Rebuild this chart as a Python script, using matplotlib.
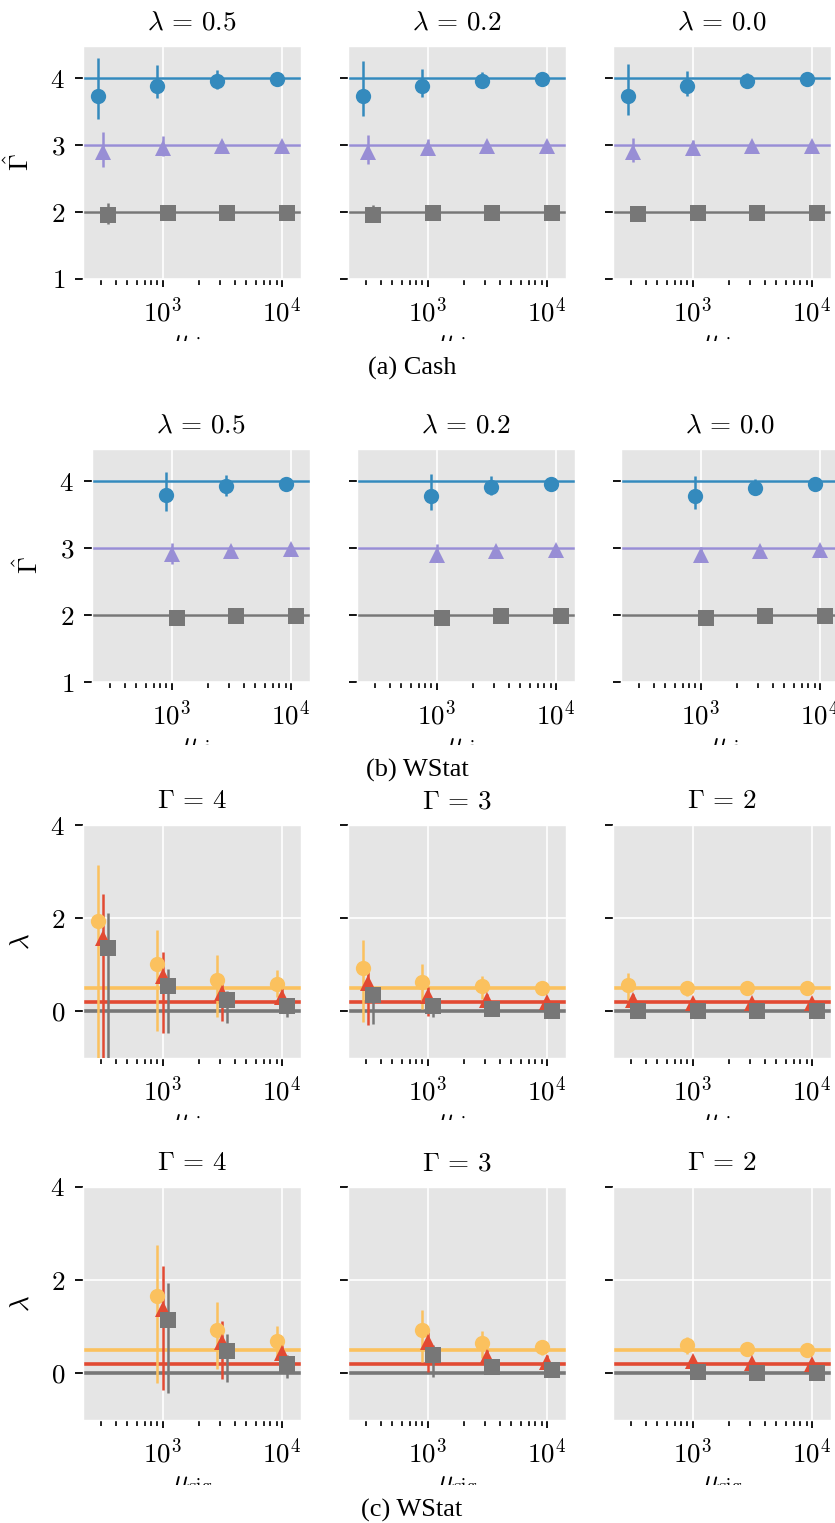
import numpy as np
import matplotlib
matplotlib.use('Agg')
import matplotlib.pyplot as plt
from matplotlib.patches import Rectangle
from matplotlib.ticker import FuncFormatter, LogLocator, FixedLocator, NullFormatter

nan = np.nan

# signal counts (x axis)
mu_sig = [316, 1000, 3162, 10000]

# --- (a) Cash: estimated Gamma, rows = true Gamma 4, 3, 2 ---
cash_est_l05 = [[3.73, 3.89, 3.96, 3.98], [2.89, 2.95, 2.98, 2.99], [1.96, 1.98, 1.99, 1.99]]
cash_lo_l05 = [[3.39, 3.71, 3.84, 3.94], [2.67, 2.83, 2.92, 2.96], [1.82, 1.94, 1.96, 1.97]]
cash_hi_l05 = [[4.30, 4.19, 4.12, 4.02], [3.20, 3.13, 3.06, 3.02], [2.14, 2.03, 2.02, 2.01]]

cash_est_l02 = [[3.73, 3.89, 3.95, 3.98], [2.89, 2.95, 2.98, 2.99], [1.96, 1.98, 1.99, 1.99]]
cash_lo_l02 = [[3.44, 3.72, 3.86, 3.95], [2.72, 2.86, 2.94, 2.97], [1.85, 1.95, 1.97, 1.98]]
cash_hi_l02 = [[4.25, 4.14, 4.09, 4.01], [3.15, 3.09, 3.03, 3.01], [2.10, 2.02, 2.01, 2.00]]

cash_est_l00 = [[3.73, 3.88, 3.95, 3.98], [2.89, 2.96, 2.98, 2.99], [1.97, 1.98, 1.99, 1.99]]
cash_lo_l00 = [[3.45, 3.73, 3.88, 3.96], [2.75, 2.90, 2.95, 2.97], [1.94, 1.96, 1.98, 1.98]]
cash_hi_l00 = [[4.21, 4.11, 4.07, 4.00], [3.11, 3.07, 3.01, 3.01], [2.00, 2.00, 2.00, 2.00]]

# --- (b) WStat: estimated Gamma ---
wst_est_l05 = [[nan, 3.79, 3.92, 3.96], [nan, 2.91, 2.96, 2.98], [nan, 1.96, 1.98, 1.99]]
wst_lo_l05 = [[nan, 3.55, 3.78, 3.93], [nan, 2.76, 2.90, 2.95], [nan, 1.93, 1.96, 1.98]]
wst_hi_l05 = [[nan, 4.14, 4.09, 4.00], [nan, 3.07, 3.02, 3.00], [nan, 2.00, 2.00, 2.00]]

wst_est_l02 = [[nan, 3.78, 3.91, 3.96], [nan, 2.90, 2.95, 2.97], [nan, 1.96, 1.98, 1.99]]
wst_lo_l02 = [[nan, 3.57, 3.79, 3.94], [nan, 2.79, 2.92, 2.95], [nan, 1.94, 1.97, 1.98]]
wst_hi_l02 = [[nan, 4.11, 4.07, 3.99], [nan, 3.06, 2.99, 2.99], [nan, 1.99, 1.99, 2.00]]

wst_est_l00 = [[nan, 3.78, 3.90, 3.96], [nan, 2.89, 2.95, 2.97], [nan, 1.96, 1.99, 1.99]]
wst_lo_l00 = [[nan, 3.58, 3.80, 3.94], [nan, 2.80, 2.92, 2.95], [nan, 1.94, 1.97, 1.98]]
wst_hi_l00 = [[nan, 4.08, 4.03, 3.99], [nan, 3.02, 2.99, 2.99], [nan, 1.99, 2.00, 2.00]]

# --- (c) estimated lambda, rows = true lambda 0.5, 0.2, 0.0 ---
lam1_est_g4 = [[1.95, 1.01, 0.67, 0.58], [1.57, 0.76, 0.40, 0.30], [1.36, 0.55, 0.25, 0.11]]
lam1_lo_g4 = [[-1.5, -0.43, -0.11, 0.30], [-1.5, -0.46, -0.21, 0.05], [-1.5, -0.46, -0.24, -0.11]]
lam1_hi_g4 = [[3.15, 1.74, 1.20, 0.88], [2.53, 1.28, 0.73, 0.50], [2.11, 0.92, 0.43, 0.25]]

lam1_est_g3 = [[0.94, 0.64, 0.55, 0.51], [0.60, 0.32, 0.25, 0.20], [0.35, 0.11, 0.05, 0.01]]
lam1_lo_g3 = [[-0.23, 0.05, 0.26, 0.43], [-0.29, -0.09, 0.08, 0.13], [-0.28, -0.13, -0.03, -0.04]]
lam1_hi_g3 = [[1.54, 1.01, 0.77, 0.60], [0.96, 0.53, 0.37, 0.27], [0.53, 0.26, 0.12, 0.06]]

lam1_est_g2 = [[0.57, 0.51, 0.50, 0.50], [0.24, 0.19, 0.19, 0.19], [0.00, 0.00, 0.00, 0.00]]
lam1_lo_g2 = [[0.25, 0.32, 0.45, 0.47], [0.12, 0.14, 0.16, 0.17], [-0.03, -0.02, -0.01, -0.01]]
lam1_hi_g2 = [[0.83, 0.65, 0.55, 0.53], [0.37, 0.25, 0.22, 0.21], [0.03, 0.02, 0.01, 0.01]]

lam2_est_g4 = [[nan, 1.66, 0.94, 0.69], [nan, 1.39, 0.67, 0.43], [nan, 1.14, 0.48, 0.21]]
lam2_lo_g4 = [[nan, -0.21, 0.09, 0.32], [nan, -0.36, -0.11, 0.06], [nan, -0.41, -0.18, -0.09]]
lam2_hi_g4 = [[nan, 2.75, 1.53, 1.01], [nan, 2.30, 1.12, 0.64], [nan, 1.94, 0.85, 0.40]]

lam2_est_g3 = [[nan, 0.93, 0.65, 0.56], [nan, 0.67, 0.35, 0.25], [nan, 0.39, 0.13, 0.07]]
lam2_lo_g3 = [[nan, 0.25, 0.32, 0.39], [nan, 0.04, 0.10, 0.12], [nan, -0.07, 0.00, 0.02]]
lam2_hi_g3 = [[nan, 1.35, 0.90, 0.70], [nan, 0.88, 0.51, 0.39], [nan, 0.61, 0.28, 0.12]]

lam2_est_g2 = [[nan, 0.60, 0.53, 0.51], [nan, 0.27, 0.22, 0.20], [nan, 0.02, 0.00, 0.00]]
lam2_lo_g2 = [[nan, 0.41, 0.47, 0.48], [nan, 0.20, 0.18, 0.17], [nan, -0.01, -0.01, -0.01]]
lam2_hi_g2 = [[nan, 0.79, 0.59, 0.54], [nan, 0.34, 0.26, 0.23], [nan, 0.05, 0.01, 0.01]]

gamma_true = [4, 3, 2]
lambda_true = [0.5, 0.2, 0.0]
gamma_colors = ['#348ABD', '#988ED5', '#777777']
lambda_colors = ['#FBC15E', '#E24A33', '#777777']
markers = ['o', '^', 's']
shifts = [0.9, 1.0, 1.1]

plt.style.use('ggplot')
plt.rcParams.update({
    'mathtext.fontset': 'cm',
    'font.family': 'serif',
    'font.serif': ['Liberation Serif', 'DejaVu Serif'],
    'xtick.color': 'black',
    'ytick.color': 'black',
    'axes.labelcolor': 'black',
})

W, H = 835, 1523
FS = 19.5
fig = plt.figure(figsize=(W / 100, H / 100), dpi=100)


def px_axes(left, top, w=218, h=233):
    return fig.add_axes([left / W, 1 - (top + h) / H, w / W, h / H])


def draw_panel(ax, est, lo, hi, truth, colors, lw, title, ylim, yticks, first, ylabel):
    for i in range(3):
        ax.axhline(truth[i], color=colors[i], lw=lw, zorder=2)
    for i in range(3):
        e = np.array(est[i])
        l = np.array(lo[i])
        h = np.array(hi[i])
        x = np.array(mu_sig) * shifts[i]
        ax.errorbar(x, e, yerr=[e - l, h - e], fmt=markers[i], color=colors[i],
                    ms=11, mew=0, elinewidth=1.8, capsize=2.5, capthick=1.8, zorder=3)
    ax.set_xscale('log')
    ax.set_xlim(213, 14450)
    ax.set_ylim(*ylim)
    ax.xaxis.set_major_locator(FixedLocator([1e3, 1e4]))
    ax.xaxis.set_minor_locator(LogLocator(base=10, subs=np.arange(2, 10)))
    ax.xaxis.set_minor_formatter(NullFormatter())
    ax.xaxis.set_major_formatter(FuncFormatter(lambda v, p: r'$10^{%d}$' % round(np.log10(v))))
    ax.set_yticks(yticks)
    if first:
        ax.yaxis.set_major_formatter(FuncFormatter(lambda v, p: r'$%g$' % v))
        ax.set_ylabel(ylabel, fontsize=FS)
        ax.yaxis.set_label_coords(-0.22, 0.5)
    else:
        ax.set_yticklabels([])
    ax.tick_params(which='major', length=6, width=1.3, pad=7, labelsize=FS, color='black')
    ax.tick_params(which='minor', length=4, width=1.2, color='black')
    ax.set_title(title, fontsize=FS, pad=12)
    ax.set_xlabel(r'$\mu_{\rm sig}$', fontsize=FS)
    ax.xaxis.set_label_coords(0.5, -0.235)
    ax.grid(True, which='major', color='white', lw=1.2)


gam_ylim = (1, 4.48)
gam_ticks = [1, 2, 3, 4]
lam_ylim = (-1, 4)
lam_ticks = [0, 2, 4]
lam_titles = [r'$\lambda\,=\,0.5$', r'$\lambda\,=\,0.2$', r'$\lambda\,=\,0.0$']
gam_titles = [r'$\Gamma\,=\,4$', r'$\Gamma\,=\,3$', r'$\Gamma\,=\,2$']

# (a) Cash
cash = [(cash_est_l05, cash_lo_l05, cash_hi_l05),
        (cash_est_l02, cash_lo_l02, cash_hi_l02),
        (cash_est_l00, cash_lo_l00, cash_hi_l00)]
for j, left in enumerate([83, 348, 613]):
    ax = px_axes(left, 46)
    draw_panel(ax, *cash[j], gamma_true, gamma_colors, 1.8, lam_titles[j],
               gam_ylim, gam_ticks, j == 0, r'$\hat{\Gamma}$')

# (b) WStat
wst = [(wst_est_l05, wst_lo_l05, wst_hi_l05),
       (wst_est_l02, wst_lo_l02, wst_hi_l02),
       (wst_est_l00, wst_lo_l00, wst_hi_l00)]
for j, left in enumerate([92, 357, 621]):
    ax = px_axes(left, 449)
    draw_panel(ax, *wst[j], gamma_true, gamma_colors, 1.8, lam_titles[j],
               gam_ylim, gam_ticks, j == 0, r'$\hat{\Gamma}$')

# (c) lambda estimates
lam1 = [(lam1_est_g4, lam1_lo_g4, lam1_hi_g4),
        (lam1_est_g3, lam1_lo_g3, lam1_hi_g3),
        (lam1_est_g2, lam1_lo_g2, lam1_hi_g2)]
lam2 = [(lam2_est_g4, lam2_lo_g4, lam2_hi_g4),
        (lam2_est_g3, lam2_lo_g3, lam2_hi_g3),
        (lam2_est_g2, lam2_lo_g2, lam2_hi_g2)]
for top, rows in [(825, lam1), (1187, lam2)]:
    for j, left in enumerate([83, 348, 613]):
        ax = px_axes(left, top)
        draw_panel(ax, *rows[j], lambda_true, lambda_colors, 2.6, gam_titles[j],
                   lam_ylim, lam_ticks, j == 0, r'$\lambda$')

# cut-off x labels, as in the original stacked figure
for y0, y1 in [(341, 356), (745, 759), (1120, 1150), (1485, 1499)]:
    fig.add_artist(Rectangle((0, 1 - y1 / H), 1, (y1 - y0) / H, transform=fig.transFigure,
                             facecolor='white', edgecolor='none', zorder=5))

for x, y, s in [(412, 368, '(a) Cash'), (417, 770, '(b) WStat'), (412, 1510, '(c) WStat')]:
    fig.text(x / W, 1 - y / H, s, ha='center', va='center', fontsize=19, zorder=6)

fig.savefig('out.png', dpi=100)
